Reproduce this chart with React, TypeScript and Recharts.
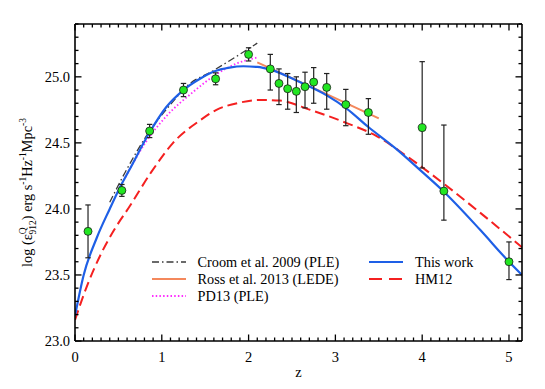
import React from "react";
import { ComposedChart, Line, Scatter, ErrorBar, XAxis, YAxis, Label } from "recharts";

const FONT = '"Liberation Serif", "Times New Roman", Times, serif';

// measured QSO emissivity at 912A (log), with asymmetric errors
const obsZ = [0.15, 0.54, 0.86, 1.25, 1.62, 2.0, 2.25, 2.35, 2.45, 2.55, 2.65, 2.75, 2.9, 3.12, 3.38, 4.0, 4.25, 5.0];
const obsLogE = [23.83, 24.14, 24.59, 24.9, 24.985, 25.17, 25.06, 24.95, 24.91, 24.89, 24.925, 24.96, 24.92, 24.79, 24.73, 24.615, 24.135, 23.6];
const obsErrLow = [0.2, 0.045, 0.05, 0.05, 0.045, 0.05, 0.16, 0.16, 0.155, 0.16, 0.16, 0.16, 0.165, 0.16, 0.165, 0.305, 0.22, 0.135];
const obsErrHigh = [0.2, 0.045, 0.05, 0.05, 0.045, 0.05, 0.11, 0.11, 0.115, 0.11, 0.11, 0.11, 0.105, 0.115, 0.105, 0.5, 0.5, 0.15];

// model curves
const thisWorkZ = [0, 0.1, 0.25, 0.4, 0.5, 0.63, 0.86, 1.05, 1.25, 1.44, 1.6, 1.78, 1.94, 2.1, 2.25, 2.59, 2.9, 3.13, 3.38, 3.69, 4.0, 4.25, 4.67, 5.0, 5.15];
const thisWorkV = [23.19, 23.5, 23.78, 24.0, 24.14, 24.3, 24.58, 24.77, 24.9, 24.985, 25.04, 25.07, 25.08, 25.075, 25.055, 24.96, 24.86, 24.76, 24.62, 24.46, 24.28, 24.13, 23.84, 23.6, 23.5];

const hm12Z = [0, 0.14, 0.3, 0.45, 0.63, 0.88, 1.13, 1.44, 1.63, 1.9, 2.13, 2.36, 2.71, 3.13, 3.48, 3.8, 4.25, 4.67, 5.15];
const hm12V = [23.16, 23.42, 23.66, 23.84, 24.02, 24.28, 24.5, 24.67, 24.75, 24.805, 24.825, 24.82, 24.75, 24.65, 24.55, 24.41, 24.19, 23.97, 23.71];

const croomZ = [0.4, 0.58, 0.87, 1.1, 1.29, 1.6, 1.85, 2.1];
const croomV = [24.05, 24.28, 24.6, 24.79, 24.93, 25.05, 25.15, 25.255];

const rossZ = [2.1, 2.8, 3.5];
const rossV = [25.11, 24.9, 24.685];

const pd13Z = [0.58, 0.81, 1.05, 1.36, 1.63, 1.86, 2.09];
const pd13V = [24.24, 24.5, 24.7, 24.885, 25.02, 25.1, 25.145];

const xTicks = Array.from({ length: 52 }, (_, i) => i / 10);
const yTicks = Array.from({ length: 25 }, (_, i) => (230 + i) / 10);

const zip = (zs: number[], vs: number[]) => zs.map((z, i) => ({ z, v: vs[i] }));

const obsData = obsZ.map((z, i) => ({ z, v: obsLogE[i], err: [obsErrLow[i], obsErrHigh[i]] }));

const SERIES = {
  croom: { name: "Croom et al. 2009 (PLE)", color: "#3a3a3a", dash: "7 3 1.5 3", width: 1.3 },
  ross: { name: "Ross et al. 2013 (LEDE)", color: "#f4885c", dash: undefined, width: 2 },
  pd13: { name: "PD13 (PLE)", color: "#ff2bff", dash: "1.5 2.2", width: 1.8 },
  thisWork: { name: "This work", color: "#1e5fe6", dash: undefined, width: 2.2 },
  hm12: { name: "HM12", color: "#f42020", dash: "10 5", width: 2 },
};

const isMajorX = (v: number) => Math.abs(v - Math.round(v)) < 1e-6;
const isMajorY = (v: number) => Math.abs(v * 2 - Math.round(v * 2)) < 1e-6;

const MAJOR = 6.5;
const MINOR = 3.5;
const TW = 1.3;

// ticks point inward on every side, drawn as thin filled rects
const BottomTick = (p: any) => {
  const v = Number(p.payload.value);
  const x = Number(p.x);
  const y = Number(p.y);
  const len = isMajorX(v) ? MAJOR : MINOR;
  return (
    <g>
      <rect x={x - TW / 2} y={y - len} width={TW} height={len} fill="#000" />
      {isMajorX(v) && (
        <text x={x} y={y + 20.5} textAnchor="middle" fontSize={14.5} fontFamily={FONT} fill="#000">
          {Math.round(v)}
        </text>
      )}
    </g>
  );
};

const TopTick = (p: any) => {
  const x = Number(p.x);
  const y = Number(p.y);
  const len = isMajorX(Number(p.payload.value)) ? MAJOR : MINOR;
  return <rect x={x - TW / 2} y={y} width={TW} height={len} fill="#000" />;
};

const LeftTick = (p: any) => {
  const v = Number(p.payload.value);
  const x = Number(p.x);
  const y = Number(p.y);
  const len = isMajorY(v) ? MAJOR : MINOR;
  return (
    <g>
      <rect x={x} y={y - TW / 2} width={len} height={TW} fill="#000" />
      {isMajorY(v) && (
        <text x={x - 5} y={y + 5} textAnchor="end" fontSize={14.5} fontFamily={FONT} fill="#000">
          {v.toFixed(1)}
        </text>
      )}
    </g>
  );
};

const RightTick = (p: any) => {
  const x = Number(p.x);
  const y = Number(p.y);
  const len = isMajorY(Number(p.payload.value)) ? MAJOR : MINOR;
  return <rect x={x - len} y={y - TW / 2} width={len} height={TW} fill="#000" />;
};

const renderYLabel = (props: any) => {
  const vb = props.viewBox;
  const cx = 31.5;
  const cy = vb.y + vb.height / 2 + 10;
  return (
    <text
      transform={`rotate(-90 ${cx} ${cy})`}
      x={cx}
      y={cy}
      textAnchor="middle"
      fontSize={14.3}
      fontFamily={FONT}
      fill="#000"
    >
      <tspan>log (ε</tspan>
      <tspan dy={-6} fontSize={9.5}>Q</tspan>
      <tspan dx={-7} dy={10} fontSize={9.5}>912</tspan>
      <tspan dy={-4}>) erg s</tspan>
      <tspan dy={-6} fontSize={9.5}>-1</tspan>
      <tspan dy={6}>Hz</tspan>
      <tspan dy={-6} fontSize={9.5}>-1</tspan>
      <tspan dy={6}>Mpc</tspan>
      <tspan dy={-6} fontSize={9.5}>-3</tspan>
    </text>
  );
};

const renderXLabel = (props: any) => {
  const vb = props.viewBox;
  return (
    <text x={vb.x + vb.width / 2} y={vb.y + 36} textAnchor="middle" fontSize={14.5} fontFamily={FONT} fill="#000">
      z
    </text>
  );
};

const Dot = (p: any) => <circle cx={p.cx} cy={p.cy} r={4} fill="#22e622" stroke="#1a1a1a" strokeWidth={0.8} />;

const legendItems = [
  { s: SERIES.croom, left: 151.5, cy: 262 },
  { s: SERIES.ross, left: 151.5, cy: 279 },
  { s: SERIES.pd13, left: 151.5, cy: 296 },
  { s: SERIES.thisWork, left: 369, cy: 262 },
  { s: SERIES.hm12, left: 369, cy: 279 },
];

const LegendBox = () => (
  <>
    {legendItems.map(({ s, left, cy }) => (
      <div
        key={s.name}
        style={{
          position: "absolute",
          left,
          top: cy - 10,
          height: 20,
          display: "flex",
          alignItems: "center",
          fontFamily: FONT,
          fontSize: 14.3,
          color: "#000",
          whiteSpace: "nowrap",
        }}
      >
        <svg width={34} height={10} style={{ marginRight: 12 }}>
          <line
            x1={0}
            y1={5}
            x2={34}
            y2={5}
            stroke={s.color}
            strokeWidth={s.width}
            strokeDasharray={s === SERIES.hm12 ? "13 7" : s.dash}
          />
        </svg>
        <span>{s.name}</span>
      </div>
    ))}
  </>
);

const axisCommon = {
  type: "number" as const,
  allowDataOverflow: true,
  interval: 0,
  tickSize: 0,
  tickMargin: 0,
  tickLine: false,
  axisLine: { stroke: "#000", strokeWidth: 1.6 },
};

export default function App() {
  return (
    <div style={{ position: "absolute", left: 0, top: 0, width: 545, height: 389, background: "#fff" }}>
      <ComposedChart width={545} height={389} margin={{ top: 0, right: 0, bottom: 0, left: 0 }}>
        <XAxis {...axisCommon} xAxisId="b" dataKey="z" domain={[0, 5.15]} ticks={xTicks} tick={BottomTick} height={48}>
          <Label content={renderXLabel} />
        </XAxis>
        <XAxis
          {...axisCommon}
          xAxisId="t"
          orientation="top"
          dataKey="z"
          domain={[0, 5.15]}
          ticks={xTicks}
          tick={TopTick}
          height={24}
        />
        <YAxis {...axisCommon} yAxisId="l" dataKey="v" domain={[23, 25.4]} ticks={yTicks} tick={LeftTick} width={75}>
          <Label content={renderYLabel} />
        </YAxis>
        <YAxis
          {...axisCommon}
          yAxisId="r"
          orientation="right"
          dataKey="v"
          domain={[23, 25.4]}
          ticks={yTicks}
          tick={RightTick}
          width={23}
        />

        <Line
          xAxisId="b"
          yAxisId="l"
          data={zip(hm12Z, hm12V)}
          dataKey="v"
          name={SERIES.hm12.name}
          type="monotone"
          stroke={SERIES.hm12.color}
          strokeWidth={SERIES.hm12.width}
          strokeDasharray={SERIES.hm12.dash}
          dot={false}
          isAnimationActive={false}
        />
        <Line
          xAxisId="b"
          yAxisId="l"
          data={zip(croomZ, croomV)}
          dataKey="v"
          name={SERIES.croom.name}
          type="monotone"
          stroke={SERIES.croom.color}
          strokeWidth={SERIES.croom.width}
          strokeDasharray={SERIES.croom.dash}
          dot={false}
          isAnimationActive={false}
        />
        <Line
          xAxisId="b"
          yAxisId="l"
          data={zip(pd13Z, pd13V)}
          dataKey="v"
          name={SERIES.pd13.name}
          type="monotone"
          stroke={SERIES.pd13.color}
          strokeWidth={SERIES.pd13.width}
          strokeDasharray={SERIES.pd13.dash}
          dot={false}
          isAnimationActive={false}
        />
        <Line
          xAxisId="b"
          yAxisId="l"
          data={zip(rossZ, rossV)}
          dataKey="v"
          name={SERIES.ross.name}
          type="monotone"
          stroke={SERIES.ross.color}
          strokeWidth={SERIES.ross.width}
          dot={false}
          isAnimationActive={false}
        />
        <Line
          xAxisId="b"
          yAxisId="l"
          data={zip(thisWorkZ, thisWorkV)}
          dataKey="v"
          name={SERIES.thisWork.name}
          type="monotone"
          stroke={SERIES.thisWork.color}
          strokeWidth={SERIES.thisWork.width}
          dot={false}
          isAnimationActive={false}
        />
        <Scatter
          xAxisId="b"
          yAxisId="l"
          data={obsData}
          dataKey="v"
          shape={Dot}
          isAnimationActive={false}
        >
          <ErrorBar dataKey="err" direction="y" width={2.7} stroke="#222" strokeWidth={1.2} />
        </Scatter>
      </ComposedChart>
      <LegendBox />
    </div>
  );
}
